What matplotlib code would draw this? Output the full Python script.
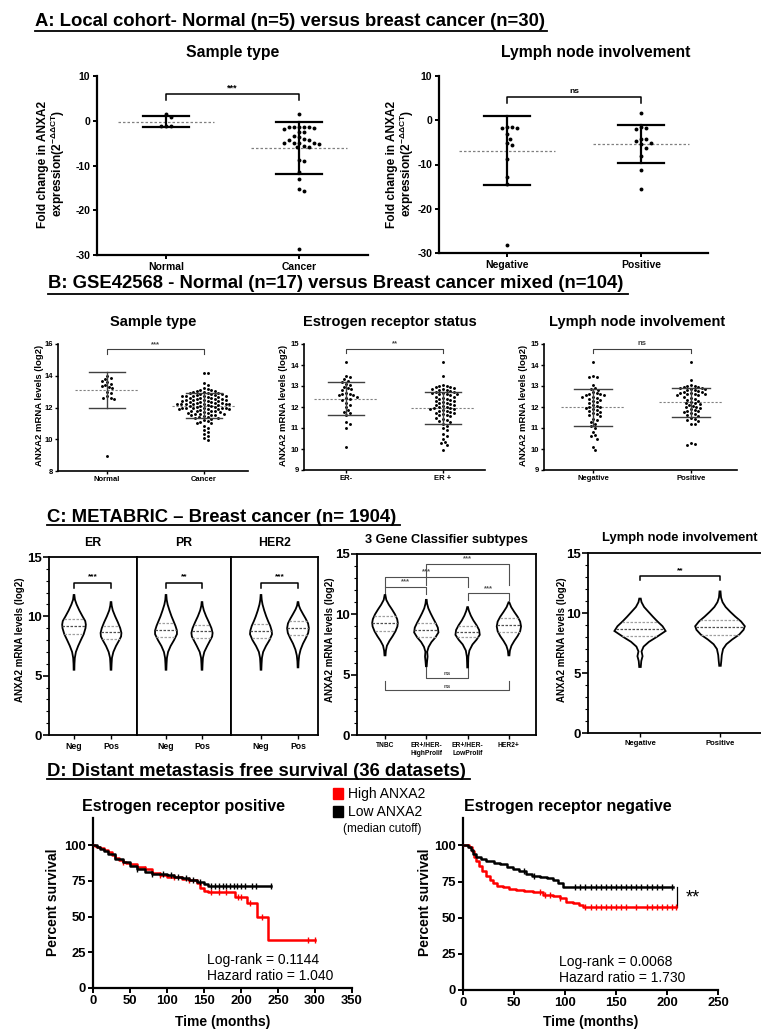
import numpy as np
import matplotlib
matplotlib.use('Agg')
import matplotlib.pyplot as plt
from matplotlib.lines import Line2D
from matplotlib.patches import Rectangle

plt.rcParams['font.family'] = ['Liberation Sans', 'DejaVu Sans']
plt.rcParams['mathtext.fontset'] = 'custom'
plt.rcParams['mathtext.rm'] = 'Liberation Sans:bold'
plt.rcParams['mathtext.it'] = 'Liberation Sans:bold'
plt.rcParams['mathtext.bf'] = 'Liberation Sans:bold'
plt.rcParams['axes.unicode_minus'] = False

# ---------------- data ----------------
# A: local cohort, fold change
A_type_labels = ['Normal', 'Cancer']
A_normal = [1.5, 0.9, -1.1, -1.2, -1.1]
A_cancer = [1.6, -1.4, -1.4, -1.5, -1.5, -1.6, -1.5, -1.8, -2.5, -2.6, -3.4, -3.6,
            -4.1, -4.2, -4.3, -4.9, -5.0, -5.1, -5.0, -4.9, -5.8, -5.9, -5.7,
            -8.8, -8.9, -11.4, -13.0, -15.2, -15.7, -28.6]
A_type_mean = [-0.2, -6.1]
A_type_sd = [1.3, 5.9]

A_ln_labels = ['Negative', 'Positive']
A_ln_neg = [-1.5, -1.6, -1.8, -1.7, -3.2, -4.2, -5.2, -5.6, -8.7, -12.8, -14.3, -28.2]
A_ln_pos = [1.6, -1.6, -1.7, -1.9, -4.2, -4.3, -4.7, -5.2, -5.3, -6.2, -8.1, -11.2, -15.5]
A_ln_mean = [-6.9, -5.3]
A_ln_sd = [7.75, 4.3]

# B: GSE42568, log2 mRNA
B_type_labels = ['Normal', 'Cancer']
B_normal = [14.0, 13.85, 13.8, 13.7, 13.6, 13.5, 13.4, 13.35, 13.3, 13.2, 13.0, 12.9,
            12.7, 12.6, 12.6, 12.55, 8.95]
B_cancer = [14.15, 14.15, 13.55, 13.4,
            13.2, 13.15, 13.1, 13.1, 13.05, 13.05,
            12.95, 12.95, 12.9, 12.9, 12.9, 12.85, 12.85, 12.85, 12.8, 12.8,
            12.75, 12.75, 12.7, 12.7, 12.7, 12.65, 12.65, 12.6, 12.6, 12.6, 12.55, 12.55, 12.55, 12.5, 12.5,
            12.45, 12.45, 12.4, 12.4, 12.4, 12.35, 12.35, 12.35, 12.3, 12.3, 12.3, 12.25, 12.25, 12.25,
            12.2, 12.2, 12.2, 12.2,
            12.15, 12.15, 12.1, 12.1, 12.1, 12.05, 12.05, 12.0, 12.0, 12.0, 12.0, 11.95, 11.95,
            11.9, 11.9, 11.9, 11.9,
            11.85, 11.8, 11.8, 11.75, 11.75, 11.7, 11.7, 11.65, 11.65, 11.6, 11.6, 11.6,
            11.55, 11.5, 11.5, 11.45, 11.4, 11.4, 11.35, 11.35, 11.3,
            11.2, 11.15, 11.1, 11.05, 11.0, 10.85, 10.7, 10.6, 10.45, 10.3, 10.2, 10.05, 9.95]
B_type_mean = [13.1, 12.12]
B_type_sd = [1.15, 0.78]

B_er_labels = ['ER-', 'ER +']
B_er_neg = [14.15, 13.5, 13.45, 13.35, 13.25, 13.2, 13.1, 13.05, 12.95, 12.9, 12.85, 12.8,
            12.65, 12.6, 12.6, 12.55, 12.55, 12.5, 12.45, 12.4, 12.35, 12.2, 12.1, 12.0,
            11.85, 11.75, 11.7, 11.6, 11.3, 11.2, 11.0, 10.1]
B_er_pos = [14.15, 13.5, 13.05, 13.0, 13.0, 12.95, 12.95, 12.9, 12.85, 12.85, 12.8, 12.8,
            12.75, 12.7, 12.7, 12.65, 12.65, 12.6, 12.6, 12.6, 12.55, 12.5, 12.5, 12.45,
            12.4, 12.4, 12.35, 12.3, 12.3, 12.25, 12.2, 12.2, 12.15, 12.1, 12.1, 12.05,
            12.0, 12.0, 11.95, 11.95, 11.9, 11.9, 11.85, 11.8, 11.8, 11.75, 11.7, 11.7,
            11.65, 11.6, 11.6, 11.55, 11.5, 11.45, 11.4, 11.35, 11.3, 11.2, 11.1, 11.0,
            10.9, 10.7, 10.6, 10.5, 10.35, 10.3, 10.2, 9.95]
B_er_mean = [12.4, 11.97]
B_er_sd = [0.8, 0.76]

B_ln_labels = ['Negative', 'Positive']
B_ln_neg = [14.15, 13.5, 13.45, 13.45, 13.05, 12.9, 12.85, 12.8, 12.7, 12.65, 12.6, 12.6,
            12.55, 12.55, 12.5, 12.5, 12.45, 12.4, 12.35, 12.3, 12.25, 12.2, 12.1, 12.05,
            12.0, 12.0, 11.95, 11.9, 11.85, 11.8, 11.75, 11.7, 11.65, 11.6, 11.55, 11.45,
            11.4, 11.3, 11.2, 11.1, 11.0, 10.8, 10.65, 10.6, 10.5, 10.1, 9.95]
B_ln_pos = [14.15, 13.3, 13.05, 13.0, 13.0, 12.95, 12.95, 12.9, 12.9, 12.85, 12.85, 12.8,
            12.8, 12.75, 12.7, 12.7, 12.65, 12.65, 12.6, 12.6, 12.6, 12.55, 12.55, 12.5,
            12.45, 12.4, 12.35, 12.3, 12.25, 12.2, 12.2, 12.15, 12.1, 12.05, 12.0, 12.0,
            11.95, 11.9, 11.85, 11.8, 11.8, 11.75, 11.7, 11.65, 11.6, 11.55, 11.5, 11.45,
            11.4, 11.35, 11.2, 11.2, 10.3, 10.25, 10.2]
B_ln_mean = [11.98, 12.22]
B_ln_sd = [0.89, 0.68]

# C: METABRIC violins (y levels, relative half widths, quartiles q1/median/q3)
C_np_labels = ['Neg', 'Pos']
C_er_shapes = [([5.5, 6.0, 6.5, 7.0, 7.5, 8.0, 8.5, 9.0, 9.3, 9.6, 10.0, 10.5, 11.0, 11.4, 11.8],
                [0.03, 0.04, 0.07, 0.16, 0.35, 0.58, 0.82, 0.97, 1.0, 0.95, 0.72, 0.45, 0.22, 0.08, 0.03]),
               ([5.5, 6.0, 6.5, 7.0, 7.5, 8.0, 8.3, 8.6, 9.0, 9.5, 10.0, 10.5, 10.9, 11.2],
                [0.03, 0.05, 0.08, 0.2, 0.42, 0.7, 0.85, 0.88, 0.78, 0.58, 0.35, 0.15, 0.06, 0.03])]
C_er_quart = [[8.55, 9.15, 9.8], [8.1, 8.7, 9.2]]
C_pr_shapes = [([5.5, 6.0, 6.5, 7.0, 7.5, 8.0, 8.5, 8.8, 9.2, 9.6, 10.0, 10.5, 11.0, 11.4, 11.8],
                [0.03, 0.05, 0.08, 0.18, 0.4, 0.7, 0.95, 0.95, 0.82, 0.65, 0.48, 0.3, 0.14, 0.06, 0.03]),
               ([5.5, 6.0, 6.5, 7.0, 7.5, 8.0, 8.3, 8.6, 9.0, 9.5, 10.0, 10.5, 10.9, 11.2],
                [0.03, 0.05, 0.08, 0.2, 0.45, 0.72, 0.88, 0.92, 0.82, 0.6, 0.36, 0.16, 0.06, 0.03])]
C_pr_quart = [[8.25, 8.85, 9.45], [8.2, 8.75, 9.25]]
C_her2_shapes = [([5.5, 6.0, 6.5, 7.0, 7.5, 8.0, 8.5, 8.8, 9.2, 9.6, 10.0, 10.5, 11.0, 11.4, 11.8],
                  [0.03, 0.05, 0.08, 0.18, 0.42, 0.72, 0.93, 0.9, 0.78, 0.6, 0.44, 0.27, 0.13, 0.06, 0.03]),
                 ([5.7, 6.2, 6.7, 7.2, 7.7, 8.2, 8.6, 9.0, 9.4, 9.8, 10.2, 10.6, 10.9, 11.2],
                  [0.03, 0.05, 0.1, 0.22, 0.42, 0.68, 0.86, 0.92, 0.85, 0.65, 0.42, 0.2, 0.08, 0.03])]
C_her2_quart = [[8.15, 8.75, 9.35], [8.45, 9.05, 9.6]]

C_gene_labels = ['TNBC', 'ER+/HER-\nHighProlif', 'ER+/HER-\nLowProlif', 'HER2+']
C_gene_shapes = [([6.6, 7.0, 7.4, 7.8, 8.2, 8.6, 9.0, 9.3, 9.6, 10.0, 10.4, 10.8, 11.2, 11.6],
                  [0.04, 0.07, 0.15, 0.35, 0.6, 0.82, 0.97, 1.0, 0.95, 0.78, 0.55, 0.3, 0.1, 0.03]),
                 ([5.7, 6.1, 6.5, 6.9, 7.3, 7.7, 8.1, 8.5, 8.9, 9.3, 9.7, 10.1, 10.5, 10.9, 11.2],
                  [0.03, 0.06, 0.1, 0.07, 0.18, 0.4, 0.72, 0.95, 0.9, 0.72, 0.52, 0.33, 0.16, 0.06, 0.03]),
                 ([5.6, 6.0, 6.5, 7.0, 7.5, 7.9, 8.3, 8.7, 9.1, 9.5, 9.9, 10.3, 10.6],
                  [0.03, 0.04, 0.06, 0.14, 0.38, 0.7, 0.95, 0.9, 0.7, 0.45, 0.25, 0.1, 0.03]),
                 ([6.6, 7.0, 7.4, 7.8, 8.2, 8.6, 9.0, 9.4, 9.8, 10.2, 10.6, 11.0],
                  [0.04, 0.08, 0.2, 0.42, 0.68, 0.88, 0.95, 0.88, 0.68, 0.42, 0.18, 0.03])]
C_gene_quart = [[8.6, 9.25, 9.85], [8.15, 8.7, 9.3], [8.1, 8.55, 9.05], [8.5, 9.1, 9.7]]

C_ln_labels = ['Negative', 'Positive']
C_ln_shapes = [([5.5, 6.0, 6.4, 6.8, 7.2, 7.6, 8.0, 8.5, 8.9, 9.3, 9.7, 10.1, 10.5, 10.9, 11.2],
                [0.03, 0.05, 0.1, 0.06, 0.14, 0.35, 0.65, 1.0, 0.88, 0.68, 0.5, 0.33, 0.16, 0.06, 0.03]),
               ([5.6, 6.0, 6.5, 7.0, 7.4, 7.8, 8.2, 8.6, 8.9, 9.3, 9.7, 10.1, 10.5, 10.9, 11.3, 11.8],
                [0.03, 0.05, 0.07, 0.12, 0.25, 0.48, 0.75, 0.92, 0.97, 0.82, 0.6, 0.4, 0.22, 0.1, 0.04, 0.02])]
C_ln_quart = [[8.05, 8.65, 9.25], [8.2, 8.8, 9.4]]

# D: Kaplan-Meier (time in months, percent survival)
D_pos_high_t = [0, 3, 6, 10, 15, 20, 25, 30, 35, 40, 45, 50, 60, 70, 80, 90, 100, 110, 120,
                130, 140, 145, 150, 155, 192, 208, 222, 236, 300]
D_pos_high_s = [100, 99.5, 99, 98, 96.5, 95, 93, 91, 89.5, 88.5, 87.5, 86.5, 85, 83, 80.5,
                79, 78, 77.5, 76.5, 75.5, 73.5, 70, 68, 67, 64, 59.5, 50, 33.5, 33.5]
D_pos_high_cens = [40, 70, 90, 110, 130, 160, 170, 180, 196, 200, 212, 228, 290, 300]
D_pos_low_t = [0, 5, 10, 15, 20, 30, 40, 50, 60, 70, 80, 90, 100, 110, 120, 130, 140, 150, 155, 240]
D_pos_low_s = [100, 99, 97.5, 96, 94, 90.5, 88, 85.5, 83.5, 81.5, 80, 79.5, 79, 78, 77,
               75.5, 74.5, 73, 71.5, 71.5]
D_pos_low_cens = [60, 80, 95, 105, 115, 125, 135, 145, 160, 165, 170, 175, 180, 185, 190,
                  195, 200, 205, 215, 220, 240]

D_neg_high_t = [0, 6, 9, 11, 13, 16, 19, 23, 26, 29, 33, 39, 45, 52, 60, 69, 78, 88, 95,
                101, 108, 114, 118, 209]
D_neg_high_s = [100, 99, 96, 92, 89, 86, 82, 79, 76, 74, 72, 71, 70, 69, 68.5, 67.5, 66,
                65, 63.5, 61, 60, 58.5, 57.5, 57.5]
D_neg_high_cens = [75, 80, 85, 95, 120, 125, 130, 135, 140, 145, 150, 155, 160, 170, 180,
                   185, 190, 195, 200, 205, 209]
D_neg_low_t = [0, 5, 8, 10, 13, 18, 23, 30, 36, 43, 49, 55, 62, 68, 75, 82, 88, 93, 98, 206]
D_neg_low_s = [100, 99, 97, 94, 92, 90.5, 89, 88, 87, 85, 83.5, 82, 80, 79, 78, 77.5, 76,
               74, 71.5, 71.5]
D_neg_low_cens = [60, 70, 110, 115, 120, 125, 130, 135, 140, 145, 150, 155, 160, 165, 170,
                  175, 180, 185, 190, 195, 205]

# ---------------- helpers ----------------
W, H = 761, 1030
fig = plt.figure(figsize=(W / 100, H / 100), dpi=100)


def ax_px(x0, y0, x1, y1):
    return fig.add_axes([x0 / W, 1 - y1 / H, (x1 - x0) / W, (y1 - y0) / H])


def ftext(x, y, s, **kw):
    kw.setdefault('ha', 'center')
    kw.setdefault('va', 'center')
    fig.text(x / W, 1 - y / H, s, **kw)


def fline(x0, x1, y, lw=1.3, color='black'):
    fig.add_artist(Line2D([x0 / W, x1 / W], [1 - y / H, 1 - y / H], color=color, lw=lw))


def swarm(vals, px_x, px_y, d):
    vals = np.asarray(vals, dtype=float)
    offs = np.zeros(len(vals))
    placed = []
    step = d * 0.5
    for i in np.argsort(vals)[::-1]:
        y = vals[i] * px_y
        k = 0
        while True:
            cands = [0.0] if k == 0 else [k * step, -k * step]
            hit = None
            for c in cands:
                if all((c - px) ** 2 + (y - py) ** 2 >= (0.95 * d) ** 2 for px, py in placed):
                    hit = c
                    break
            if hit is not None:
                break
            k += 1
        placed.append((hit, y))
        offs[i] = hit / px_x
    return offs


def style_lb(ax, lw):
    for s in ['top', 'right']:
        ax.spines[s].set_visible(False)
    for s in ['left', 'bottom']:
        ax.spines[s].set_linewidth(lw)


def bracket(ax, x0, x1, y, h, text, fs, color='black', lw=1.0, pad=0.0):
    ax.plot([x0, x0, x1, x1], [y - h, y, y, y - h], color=color, lw=lw, clip_on=False)
    ax.text((x0 + x1) / 2, y + pad, text, ha='center', va='bottom', fontsize=fs,
            fontweight='bold', color=color)


def dot_panel(ax, groups, means, sds, px_x, px_y, d, ms, elw, ecol, mean_half, cap_half, mlw):
    for i, vals in enumerate(groups):
        offs = swarm(vals, px_x, px_y, d)
        ax.plot(i + offs, vals, 'o', color='black', ms=ms, mew=0, zorder=3, clip_on=False)
        ax.plot([i - mean_half, i + mean_half], [means[i]] * 2, ls=(0, (2, 1.6)),
                color='#808080', lw=mlw, zorder=2)
        lo, hi = means[i] - sds[i], means[i] + sds[i]
        ax.plot([i, i], [lo, hi], color=ecol, lw=elw, zorder=4)
        ax.plot([i - cap_half, i + cap_half], [lo, lo], color=ecol, lw=elw, zorder=4)
        ax.plot([i - cap_half, i + cap_half], [hi, hi], color=ecol, lw=elw, zorder=4)


def violin(ax, x, shape, quart, half):
    ys, ws = np.array(shape[0]), np.array(shape[1]) * half
    px = np.concatenate([x - ws, (x + ws)[::-1]])
    py = np.concatenate([ys, ys[::-1]])
    ax.fill(px, py, facecolor='white', edgecolor='black', lw=1.3, zorder=3)
    for j, q in enumerate(quart):
        w = np.interp(q, ys, ws)
        col = '#505050' if j == 1 else '#a0a0a0'
        ax.plot([x - w, x + w], [q, q], ls=(0, (2, 1.2)), color=col, lw=0.9, zorder=4)


def km(ax, t, s, cens, color):
    ax.step(t, s, where='post', color=color, lw=1.8, zorder=3)
    t_arr, s_arr = np.array(t), np.array(s)
    idx = np.searchsorted(t_arr, cens, side='right') - 1
    ax.plot(cens, s_arr[idx], ls='none', marker='|', ms=4.5, mew=1.0, color=color, zorder=3)


TITLE_FS = 13.3

# ---------------- panel A ----------------
ftext(35, 21, 'A: Local cohort- Normal (n=5) versus breast cancer (n=30)', fontsize=TITLE_FS,
      fontweight='bold', ha='left')
fline(35, 547, 31)

for (x0, x1, y1, c0, c1, groups, means, sds, labs, title, tx, ylx, star, by) in [
        (97, 368, 255, 166, 299, [A_normal, A_cancer], A_type_mean, A_type_sd,
         A_type_labels, 'Sample type', 233, 52, '***', 6.0),
        (439, 708, 253, 507, 641, [A_ln_neg, A_ln_pos], A_ln_mean, A_ln_sd,
         A_ln_labels, 'Lymph node involvement', 596, 401, 'ns', 5.3)]:
    ax = ax_px(x0, 76, x1, y1)
    sc = c1 - c0
    ax.set_xlim((x0 - c0) / sc, (x1 - c0) / sc)
    ax.set_ylim(-30, 10)
    style_lb(ax, 1.6)
    pxy = (y1 - 76) / 40
    dot_panel(ax, groups, means, sds, sc, pxy, 5.0, 2.8, 1.6, 'black', 0.36, 0.17, 0.9)
    ax.set_yticks([10, 0, -10, -20, -30])
    ax.set_xticks([0, 1])
    ax.set_xticklabels(labs)
    ax.tick_params(width=1.4, length=3, labelsize=7.5, pad=2)
    for lab in ax.get_xticklabels() + ax.get_yticklabels():
        lab.set_fontweight('bold')
    bracket(ax, 0, 1, by, 1.4, star, 6 if star == 'ns' else 6.5, lw=1.1, pad=0.4)
    ftext(tx, 52, title, fontsize=11.3, fontweight='bold')
    ftext(ylx, 164, 'Fold change in ANXA2\nexpression(2$^{-\\Delta\\Delta CT}$)', fontsize=8.6,
          fontweight='bold', rotation=90, multialignment='center', linespacing=1.0)

# ---------------- panel B ----------------
ftext(48, 283, 'B: GSE42568 - Normal (n=17) versus Breast cancer mixed (n=104)', fontsize=TITLE_FS,
      fontweight='bold', ha='left')
fline(48, 628, 294)

for (x0, x1, y0, y1, c0, c1, ylim, yt, groups, means, sds, labs, title, tx, ylx, star, by) in [
        (58, 248, 344, 471, 107, 204, (8, 16), [8, 10, 12, 14, 16], [B_normal, B_cancer],
         B_type_mean, B_type_sd, B_type_labels, 'Sample type', 153, 40, '***', 15.68),
        (304, 485, 344, 470, 346, 443, (9, 15), [9, 10, 11, 12, 13, 14, 15], [B_er_neg, B_er_pos],
         B_er_mean, B_er_sd, B_er_labels, 'Estrogen receptor status', 390, 283, '**', 14.78),
        (544, 737, 344, 470, 593, 691, (9, 15), [9, 10, 11, 12, 13, 14, 15], [B_ln_neg, B_ln_pos],
         B_ln_mean, B_ln_sd, B_ln_labels, 'Lymph node involvement', 637, 523, 'ns', 14.78)]:
    ax = ax_px(x0, y0, x1, y1)
    sc = c1 - c0
    ax.set_xlim((x0 - c0) / sc, (x1 - c0) / sc)
    ax.set_ylim(*ylim)
    style_lb(ax, 1.2)
    pxy = (y1 - y0) / (ylim[1] - ylim[0])
    dot_panel(ax, groups, means, sds, sc, pxy, 3.6, 2.1, 1.0, '#404040', 0.33, 0.19, 0.8)
    ax.set_yticks(yt)
    ax.set_xticks([0, 1])
    ax.set_xticklabels(labs)
    ax.tick_params(width=1.0, length=2, labelsize=5.5, pad=1.5)
    for lab in ax.get_xticklabels() + ax.get_yticklabels():
        lab.set_fontweight('bold')
    bracket(ax, 0, 1, by, 0.3 * (ylim[1] - ylim[0]) / 8 * 1.0, star, 5.5, color='#404040',
            lw=0.8, pad=0.08)
    ftext(tx, 322, title, fontsize=10.5, fontweight='bold')
    ftext(ylx, 405, 'ANXA2 mRNA levels (log2)', fontsize=6.8, fontweight='bold', rotation=90)

# ---------------- panel C ----------------
ftext(47, 517, 'C: METABRIC \u2013 Breast cancer (n= 1904)', fontsize=TITLE_FS, fontweight='bold',
      ha='left')
fline(47, 400, 525)


def c_axes(x0, x1, y0, y1, centers, labels, first, right_spine=True, lsize=6.2):
    ax = ax_px(x0, y0, x1, y1)
    sc = centers[1] - centers[0]
    ax.set_xlim((x0 - centers[0]) / sc, (x1 - centers[0]) / sc)
    ax.set_ylim(0, 15)
    for s in ax.spines.values():
        s.set_linewidth(1.3)
    ax.spines['right'].set_visible(right_spine)
    ax.set_xticks(range(len(labels)))
    ax.set_xticklabels(labels, fontsize=lsize, fontweight='bold')
    ax.tick_params(axis='x', width=1.0, length=3, pad=2)
    if first:
        ax.set_yticks([0, 5, 10, 15])
        ax.set_yticks(np.arange(0, 16, 1), minor=True)
        ax.tick_params(axis='y', which='major', width=1.2, length=4, labelsize=9.5, pad=1)
        ax.tick_params(axis='y', which='minor', width=0.8, length=2)
        for lab in ax.get_yticklabels():
            lab.set_fontweight('bold')
    else:
        ax.set_yticks([])
    return ax


for (x0, x1, cs, shapes, quarts, title, star) in [
        (49, 137, (74, 111), C_er_shapes, C_er_quart, 'ER', '***'),
        (137, 231, (166, 202), C_pr_shapes, C_pr_quart, 'PR', '**'),
        (231, 318, (261, 298), C_her2_shapes, C_her2_quart, 'HER2', '***')]:
    ax = c_axes(x0, x1, 557, 735, cs, C_np_labels, title == 'ER')
    for i in range(2):
        violin(ax, i, shapes[i], quarts[i], 0.32)
    bracket(ax, 0, 1, 12.85, 0.45, star, 6, lw=1.1, pad=0.15)
    ftext((x0 + x1) / 2, 543, title, fontsize=8.8, fontweight='bold')
ftext(20, 640, 'ANXA2 mRNA levels (log2)', fontsize=7, fontweight='bold', rotation=90)

ax = c_axes(357, 536, 554, 735, (385, 426.3), C_gene_labels, True, lsize=4.8)
for i in range(4):
    violin(ax, i, C_gene_shapes[i], C_gene_quart[i], 0.31)
bl = dict(color='#505050', lw=0.8)
bracket(ax, 0, 1, 12.3, 0.6, '***', 5.5, pad=0.1, **bl)
bracket(ax, 0, 2, 13.1, 0.8, '***', 5.5, pad=0.1, **bl)
bracket(ax, 1, 3, 14.2, 1.8, '***', 5.5, pad=0.1, **bl)
bracket(ax, 2, 3, 11.75, 0.55, '***', 5.5, pad=0.1, **bl)
bracket(ax, 1, 2, 4.7, -1.4, 'ns', 4.5, pad=0.15, **bl)
bracket(ax, 0, 3, 3.7, -0.8, 'ns', 4.5, pad=0.15, **bl)
ftext(446, 540, '3 Gene Classifier subtypes', fontsize=9.2, fontweight='bold')
ftext(330, 640, 'ANXA2 mRNA levels (log2)', fontsize=7, fontweight='bold', rotation=90)

ax = c_axes(588, 766, 553, 733, (640, 720), C_ln_labels, True, right_spine=False, lsize=5.5)
for i in range(2):
    violin(ax, i, C_ln_shapes[i], C_ln_quart[i], 0.32)
bracket(ax, 0, 1, 13.1, 0.35, '**', 6, lw=1.1, pad=0.1)
ftext(680, 538, 'Lymph node involvement', fontsize=9.4, fontweight='bold')
ftext(562, 640, 'ANXA2 mRNA levels (log2)', fontsize=7, fontweight='bold', rotation=90)

# ---------------- panel D ----------------
ftext(47, 772, 'D: Distant metastasis free survival (36 datasets)', fontsize=TITLE_FS,
      fontweight='bold', ha='left')
fline(47, 470, 779)

fig.add_artist(Rectangle((333 / W, 1 - 799 / H), 10 / W, 11 / H, color='#ff0000'))
fig.add_artist(Rectangle((333 / W, 1 - 817 / H), 10 / W, 11 / H, color='black'))
ftext(348, 794, 'High ANXA2', fontsize=10, ha='left')
ftext(348, 812, 'Low ANXA2', fontsize=10, ha='left')
ftext(343, 829, '(median cutoff)', fontsize=8.5, ha='left')

for (x0, x1, y1, xmax, xt, high, low, title, tx, ylx, txt, ttx) in [
        (93, 352, 988, 350, range(0, 351, 50),
         (D_pos_high_t, D_pos_high_s, D_pos_high_cens), (D_pos_low_t, D_pos_low_s, D_pos_low_cens),
         'Estrogen receptor positive', 183, 53, 'Log-rank = 0.1144\nHazard ratio = 1.040', 154),
        (463, 718, 990, 250, range(0, 251, 50),
         (D_neg_high_t, D_neg_high_s, D_neg_high_cens), (D_neg_low_t, D_neg_low_s, D_neg_low_cens),
         'Estrogen receptor negative', 568, 425, 'Log-rank = 0.0068\nHazard ratio = 1.730', 94)]:
    ax = ax_px(x0, 818, x1, y1)
    ax.set_xlim(0, xmax)
    ax.set_ylim(0, 119)
    style_lb(ax, 1.6)
    km(ax, *high, '#ff0000')
    km(ax, *low, 'black')
    ax.set_xticks(list(xt))
    ax.set_yticks([0, 25, 50, 75, 100])
    ax.tick_params(width=1.4, length=3.5, labelsize=9.4, pad=1.5)
    for lab in ax.get_xticklabels() + ax.get_yticklabels():
        lab.set_fontweight('bold')
    ax.text(ttx, 14, txt, fontsize=10, ha='left', va='center', linespacing=1.15)
    ftext(tx, 807, title, fontsize=11.5, fontweight='bold')
    ftext(ylx, 902, 'Percent survival', fontsize=10, fontweight='bold', rotation=90)
    ftext((x0 + x1) / 2, 1022, 'Time (months)', fontsize=10, fontweight='bold')
    if xmax == 250:
        ax.plot([210, 210], [57.5, 71.5], color='black', lw=0.9, clip_on=False)
        ax.text(218, 64, '**', fontsize=13, ha='left', va='center')

fig.savefig('out.png', dpi=100)
